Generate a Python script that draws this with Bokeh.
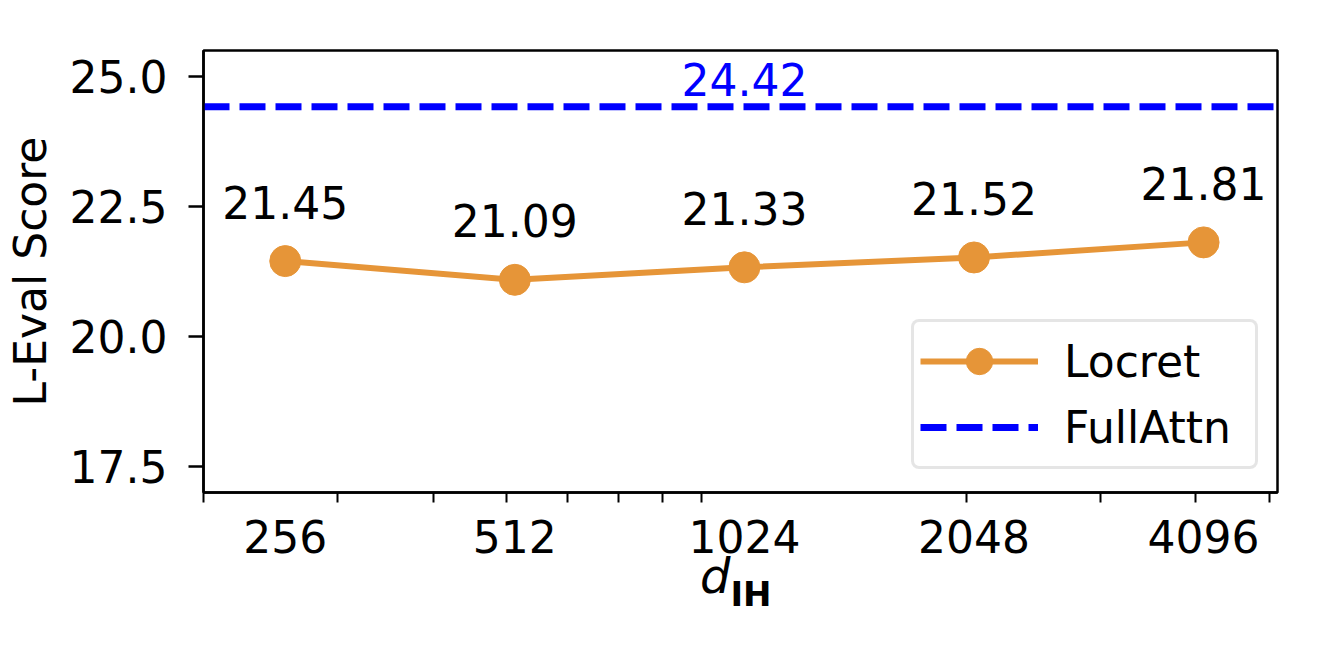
from bokeh.plotting import figure
from bokeh.layouts import column
from bokeh.models import (FixedTicker, PrintfTickFormatter, Legend, LegendItem,
                          Range1d, Div)
from bokeh.embed import file_html
from bokeh.resources import INLINE
from bokeh.core.properties import value

# ---- data ----
dims = [256, 512, 1024, 2048, 4096]
locret = [21.45, 21.09, 21.33, 21.52, 21.81]
full_attn = 24.42
x_limits = [200, 5120]
y_limits = [17.0, 25.5]
y_ticks = [17.5, 20.0, 22.5, 25.0]
x_minor_ticks = [200, 300, 400, 500, 600, 700, 800, 900, 2000, 3000, 4000, 5000]
point_labels = [f"{v:.2f}" for v in locret]
full_label = [f"{full_attn:.2f}"]

ORANGE = "#E69538"
BLUE = "#0000FF"
FONT = "DejaVu Sans"
FS = "44px"

p = figure(width=1313, height=565, x_axis_type="log",
           x_range=Range1d(*x_limits), y_range=Range1d(*y_limits),
           output_backend="svg", toolbar_location=None,
           min_border_left=203, min_border_right=36,
           min_border_top=50, min_border_bottom=73)

p.background_fill_color = "white"
p.border_fill_color = "white"
p.grid.visible = False
p.outline_line_color = "black"
p.outline_line_width = 2.5
p.outline_line_alpha = 1

# x axis
xa = p.xaxis[0]
xa.ticker = FixedTicker(ticks=dims, minor_ticks=x_minor_ticks)
xa.formatter = PrintfTickFormatter(format="%d")
xa.major_tick_out = 0
xa.major_tick_in = 0
xa.minor_tick_out = 10
xa.minor_tick_in = 0
xa.major_label_standoff = 17
xa.axis_line_width = 2.5
xa.major_tick_line_width = 2
xa.minor_tick_line_width = 2
xa.major_label_text_font = FONT
xa.major_label_text_font_size = FS
xa.major_label_text_color = "black"

# y axis
ya = p.yaxis[0]
ya.ticker = FixedTicker(ticks=y_ticks, minor_ticks=[])
ya.formatter = PrintfTickFormatter(format="%.1f")
ya.major_tick_out = 15
ya.major_tick_in = 0
ya.minor_tick_out = 0
ya.minor_tick_in = 0
ya.major_tick_line_width = 2.5
ya.axis_line_width = 2.5
ya.major_label_standoff = 21
ya.major_label_text_font = FONT
ya.major_label_text_font_size = FS
ya.major_label_text_color = "black"
ya.axis_label = "L-Eval Score"
ya.axis_label_text_font = FONT
ya.axis_label_text_font_size = FS
ya.axis_label_text_font_style = "normal"
ya.axis_label_text_color = "black"
ya.axis_label_standoff = 11

# glyphs
r_full = p.line(x_limits, [full_attn, full_attn], line_color=BLUE, line_width=7,
                line_dash="26 10")
r_line = p.line(dims, locret, line_color=ORANGE, line_width=6)
r_pts = p.scatter(dims, locret, size=31, fill_color=ORANGE, line_color=ORANGE)

p.text(dims, locret, text=point_labels, text_font=value(FONT),
       text_font_size=value(FS), text_align="center",
       text_baseline="alphabetic", y_offset=-59, text_color="black")
p.text([dims[2]], [full_attn], text=full_label, text_font=value(FONT),
       text_font_size=value(FS), text_align="center",
       text_baseline="alphabetic", y_offset=-27, text_color=BLUE)

legend = Legend(items=[LegendItem(label="Locret", renderers=[r_line, r_pts]),
                       LegendItem(label="FullAttn", renderers=[r_full])],
                location=(708, 23), margin=0, padding=6, spacing=0,
                glyph_width=118, glyph_height=66, label_standoff=26,
                label_width=185,
                label_text_font=FONT, label_text_font_size=FS,
                label_text_color="black",
                border_line_color="#cccccc", border_line_width=3,
                background_fill_color="white", background_fill_alpha=0.8)
try:
    legend.border_radius = 8
except Exception:
    pass
p.add_layout(legend)

# x axis label  d_IH  (italic d with a bold IH subscript)
xlabel_html = (
    '<div style="position:relative; left:700px; top:-13px; white-space:nowrap; '
    "font-family:'DejaVu Sans'; font-size:48px; line-height:48px; color:black;\">"
    '<span style="font-style:italic; font-size:48px;">d</span>'
    '<span style="font-weight:bold; font-size:34px; '
    'position:relative; top:13px;">IH</span>'
    '</div>'
)
xlabel = Div(text=xlabel_html, width=1313, height=70, margin=0)

layout = column(p, xlabel, spacing=0)

open("out.html", "w").write(file_html(layout, INLINE))
